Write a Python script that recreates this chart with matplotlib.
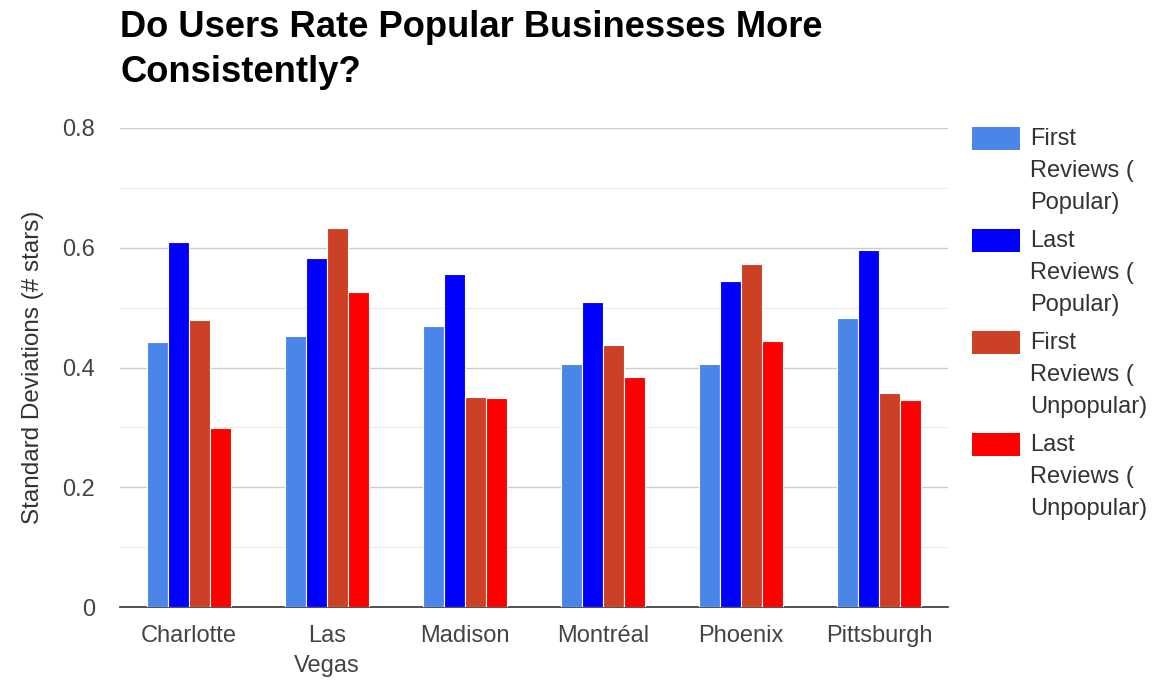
import matplotlib
matplotlib.use("Agg")
import matplotlib.pyplot as plt
import numpy as np
from matplotlib.patches import Rectangle

cities = ["Charlotte", "Las\nVegas", "Madison", "Montréal", "Phoenix", "Pittsburgh"]
series_names = ["First\nReviews (\nPopular)", "Last\nReviews (\nPopular)",
                "First\nReviews (\nUnpopular)", "Last\nReviews (\nUnpopular)"]
first_popular = [0.443, 0.453, 0.469, 0.406, 0.406, 0.483]
last_popular = [0.609, 0.583, 0.556, 0.509, 0.544, 0.596]
first_unpopular = [0.479, 0.633, 0.351, 0.438, 0.573, 0.357]
last_unpopular = [0.299, 0.526, 0.349, 0.384, 0.444, 0.346]
colors = ["#4a86e8", "#0000ff", "#cc4125", "#ff0000"]

plt.rcParams['font.family'] = ['Liberation Sans', 'DejaVu Sans']
W, H = 1157, 681
fig = plt.figure(figsize=(W / 100, H / 100), dpi=100)
ax = fig.add_axes([120 / W, 1 - 607 / H, 828 / W, 479 / H])

x = np.arange(len(cities))
w = 0.152
data = [first_popular, last_popular, first_unpopular, last_unpopular]
for i, (vals, c) in enumerate(zip(data, colors)):
    ax.bar(x + (i - 1.5) * w, vals, width=w, color=c, edgecolor="white", linewidth=0.8, zorder=3)

ax.set_xlim(-0.5, len(cities) - 0.5)
ax.set_ylim(0, 0.8)
ax.set_yticks([0, 0.2, 0.4, 0.6, 0.8])
ax.set_yticklabels(["0", "0.2", "0.4", "0.6", "0.8"])
ax.set_yticks([0.1, 0.3, 0.5, 0.7], minor=True)
ax.grid(axis='y', which='major', color="#cccccc", linewidth=1, zorder=0)
ax.grid(axis='y', which='minor', color="#ebebeb", linewidth=1, zorder=0)
ax.set_xticks(x)
ax.set_xticklabels(cities, linespacing=1.45)
for s in ["top", "right", "left"]:
    ax.spines[s].set_visible(False)
ax.spines["bottom"].set_color("#333333")
ax.spines["bottom"].set_linewidth(1.2)
ax.tick_params(axis='both', which='both', length=0, labelsize=17, colors="#444444")
ax.tick_params(axis='x', pad=13)
ax.tick_params(axis='y', pad=18)
ax.set_ylabel("Standard Deviations (# stars)", fontsize=17.5, color="#333333", labelpad=13)

title_lines = ["Do Users Rate Popular Businesses More", "Consistently?"]
for k, line in enumerate(title_lines):
    fig.text(120 / W, 1 - (37 + 45 * k) / H, line, fontsize=26.2, fontweight="bold",
             va="baseline", ha="left", color="black")

# legend drawn manually
for k, (name, c) in enumerate(zip(series_names, colors)):
    top = 127 + 102 * k
    fig.add_artist(Rectangle((972 / W, 1 - (top + 23) / H), 48 / W, 23 / H,
                             transform=fig.transFigure, facecolor=c, edgecolor="none"))
    for j, ln in enumerate(name.split("\n")):
        fig.text(1030 / W, 1 - (top + 12 + 32 * j) / H, ln, fontsize=17,
                 color="#333333", va="center", ha="left")

fig.savefig("out.png", dpi=100)
